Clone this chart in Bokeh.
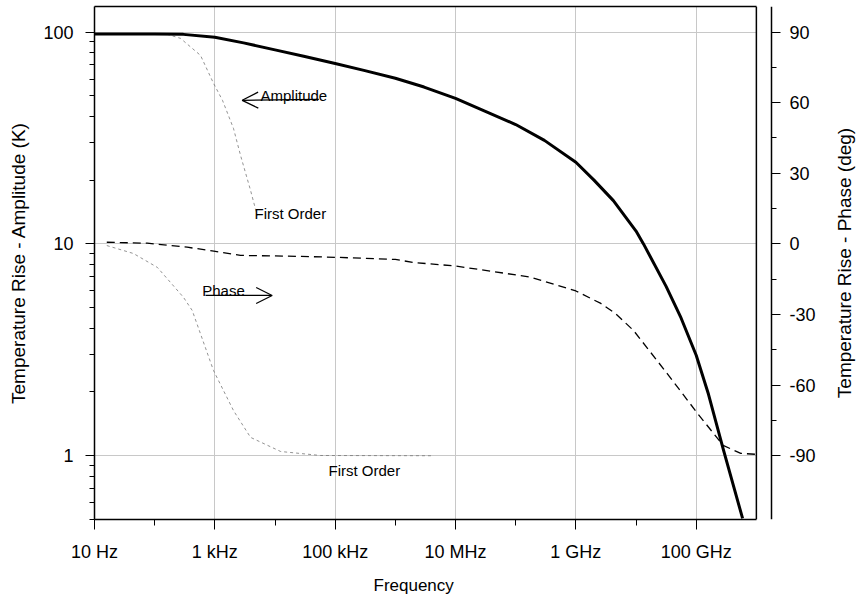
from bokeh.plotting import figure
from bokeh.models import (Range1d, LinearAxis, LogAxis, LinearScale, FixedTicker, Arrow,
                          OpenHead, Span, BoxAnnotation, Label, Title)
from bokeh.core.properties import value
from bokeh.embed import file_html
from bokeh.resources import INLINE
import math

# ---------------- data ----------------
amp_freq = [10, 100, 300, 1e3, 3e3, 1e4, 3e4, 1e5, 3e5, 1e6, 3e6, 1e7, 3e7,
            1e8, 3e8, 1e9, 2e9, 4.2e9, 1e10, 1.33e10, 3.16e10, 5.6e10, 1e11,
            1.6e11, 2.85e11, 5.9e11]
amp_vals = [98, 98, 97.5, 94.4, 88.9, 82.4, 76.8, 71.1, 65.9, 60.5, 55.0, 48.6, 42.5,
            36.6, 30.8, 24.3, 20.0, 16.0, 11.5, 10.0, 6.3, 4.47, 2.98,
            1.95, 1.06, 0.506]

phase_freq = [16, 75, 347, 961, 2670, 2.65e4, 1e5, 1e6, 2e6, 1e7, 1.76e8, 1e9,
              2.6e9, 4.56e9, 9.1e9, 3.3e10, 1.05e11, 2.8e11, 5.5e11, 1e12]
phase_vals = [0.7, 0.3, -1.4, -3.1, -4.9, -5.3, -5.7, -6.6, -7.9, -9.4, -14.1, -20,
              -25.3, -29.6, -36.8, -55.1, -72.0, -85.6, -89.0, -89.4]

fo_amp_freq = [16, 163, 268, 578, 950, 1340, 2040, 2670, 3920, 5060]
fo_amp_vals = [98, 97.5, 93.4, 77.6, 57.3, 47.6, 35.1, 26.2, 17.9, 13.6]

fo_phase_freq = [16, 44.5, 111, 301, 421, 950, 2040, 3920, 1.24e4, 5.7e4, 4.1e6]
fo_phase_vals = [-0.7, -4.1, -10, -22.7, -28.3, -53.8, -70.8, -82.2, -88.2, -89.9, -90]

# axis ticks / labels
x_major = [10, 1e3, 1e5, 1e7, 1e9, 1e11]
x_minor = [1e2, 1e4, 1e6, 1e8, 1e10]
x_labels = ["10 Hz", "1 kHz", "100 kHz", "10 MHz", "1 GHz", "100 GHz"]
y_major = [1, 10, 100]
y_minor = [0.5, 0.6, 0.7, 0.8, 0.9, 2, 3, 4, 5, 6, 7, 8, 9, 20, 30, 40, 50, 60, 70, 80, 90]
ph_major = [-90, -60, -30, 0, 30, 60, 90]
ph_minor = [-75, -45, -15, 15, 45, 75]

# annotations
amp_note = dict(x=5740, y=50.2, text="Amplitude")
amp_arrow = dict(x_start=5.35e4, y_start=48.1, x_end=2850, y_end=47.6)
amp_fo_note = dict(x=4560, y=13.98, text="First Order")
ph_note = dict(x=617, y=-19.8, text="Phase")
ph_arrow = dict(x_start=700, y_start=-21.9, x_end=8970, y_end=-21.9)
ph_fo_note = dict(x=7.74e4, y=-96.2, text="First Order")

X_MIN, X_END = 10, 1e12          # plotted frequency span (box)
X_AXIS_POS = 10 ** 12.2515       # where the detached phase axis sits
X_VIEW_END = 10 ** 13.664        # right edge of the drawing area
A_MIN, A_MAX = 0.5, 132
PH_MIN = 90 * (math.log10(A_MIN) - 1)
PH_MAX = 90 * (math.log10(A_MAX) - 1)

FONT = "Liberation Sans"
GRID = "#c8c8c8"

p = figure(width=856, height=604, x_axis_type="log", y_axis_type="log",
           x_range=Range1d(X_MIN, X_VIEW_END), y_range=Range1d(A_MIN, A_MAX),
           output_backend="svg", toolbar_location=None,
           min_border_left=94, min_border_right=0, min_border_top=6, min_border_bottom=85)
p.extra_y_ranges = {"phase": Range1d(PH_MIN, PH_MAX)}
p.extra_y_scales = {"phase": LinearScale()}
p.background_fill_color = "white"
p.border_fill_color = "white"
p.outline_line_color = None

# grids
p.xgrid.ticker = FixedTicker(ticks=x_major)
p.ygrid.ticker = FixedTicker(ticks=y_major)
for g in (p.xgrid, p.ygrid):
    g.grid_line_color = GRID
    g.grid_line_width = 1

# white area right of the box (hides grid there)
p.add_layout(BoxAnnotation(left=X_END, fill_color="white", fill_alpha=1,
                           line_color=None, level="underlay"))

# bottom axis
xa = p.xaxis[0]
xa.ticker = FixedTicker(ticks=x_major, minor_ticks=x_minor)
xa.major_label_overrides = {t: l for t, l in zip(x_major, x_labels)}
xa.bounds = (X_MIN, X_END)

# x title, centred under the box
p.add_layout(Title(text="Frequency", align="left", offset=279, standoff=18,
                   text_font=FONT, text_font_size="17px", text_font_style="normal",
                   text_color="black"), "below")

# top box edge
top = LogAxis(ticker=FixedTicker(ticks=[]), bounds=(X_MIN, X_END),
              major_tick_out=0, minor_tick_out=0, major_tick_in=0, minor_tick_in=0,
              major_label_standoff=0, axis_line_color="black", axis_line_width=1.5)
p.add_layout(top, "above")

# right box edge
p.add_layout(Span(location=X_END, dimension="height", line_color="black", line_width=1.5))

# left axis
ya = p.yaxis[0]
ya.ticker = FixedTicker(ticks=y_major, minor_ticks=y_minor)
ya.major_label_overrides = {t: str(t) for t in y_major}
ya.axis_label = "Temperature Rise - Amplitude (K)"

# phase axis (detached, right of the box)
pa = LinearAxis(y_range_name="phase", fixed_location=X_AXIS_POS,
                ticker=FixedTicker(ticks=ph_major, minor_ticks=ph_minor))
pa.major_label_overrides = {t: str(t) for t in ph_major}
p.add_layout(pa, "right")

for ax in (xa, ya, pa):
    ax.axis_line_color = "black"
    ax.axis_line_width = 1.5
    ax.major_tick_line_color = "black"
    ax.minor_tick_line_color = "black"
    ax.major_tick_line_width = 1
    ax.minor_tick_line_width = 1
    ax.major_tick_in = 0
    ax.minor_tick_in = 0
    ax.major_label_text_font = FONT
    ax.major_label_text_font_size = "18px"
    ax.major_label_text_color = "black"
    ax.axis_label_text_font = FONT
    ax.axis_label_text_font_size = "19px"
    ax.axis_label_text_font_style = "normal"
    ax.axis_label_text_color = "black"

xa.major_tick_out = 10
xa.minor_tick_out = 6
xa.major_label_standoff = 12
ya.major_tick_out = 9
ya.minor_tick_out = 5
ya.major_label_standoff = 12
ya.axis_label_standoff = 11
pa.major_tick_out = 9
pa.minor_tick_out = 5
pa.major_label_standoff = 9

# phase axis title (reads bottom-to-top like the left one)
p.add_layout(Label(x=750, y=256.5, x_units="screen", y_units="screen", angle=math.pi / 2,
                   text="Temperature Rise - Phase (deg)", text_font=FONT,
                   text_font_size="19px", text_color="black",
                   text_align="center", text_baseline="middle"))

# curves
p.line(fo_amp_freq, fo_amp_vals, line_color="#777777", line_width=0.8, line_dash="3 3")
p.line(fo_phase_freq, fo_phase_vals, line_color="#777777", line_width=0.8,
       line_dash="3 3", y_range_name="phase")
p.line(phase_freq, phase_vals, line_color="black", line_width=1.3, line_dash="8 5",
       line_join="round", y_range_name="phase")
p.line(amp_freq, amp_vals, line_color="black", line_width=3, line_join="round")

# annotations
def note(d, rng=None):
    kw = dict(text_font=value(FONT), text_font_size="15px", text_color="black",
              text_align="left", text_baseline="alphabetic")
    if rng:
        kw["y_range_name"] = rng
    p.text(x=[d["x"]], y=[d["y"]], text=[d["text"]], **kw)

note(amp_note)
note(amp_fo_note)
note(ph_note, "phase")
note(ph_fo_note, "phase")

p.add_layout(Arrow(end=OpenHead(size=16, line_width=1.2, line_color="black"),
                   line_width=1.2, line_color="black", **amp_arrow))
p.add_layout(Arrow(end=OpenHead(size=16, line_width=1.2, line_color="black"),
                   line_width=1.2, line_color="black", y_range_name="phase", **ph_arrow))

open("out.html", "w").write(file_html(p, INLINE))
